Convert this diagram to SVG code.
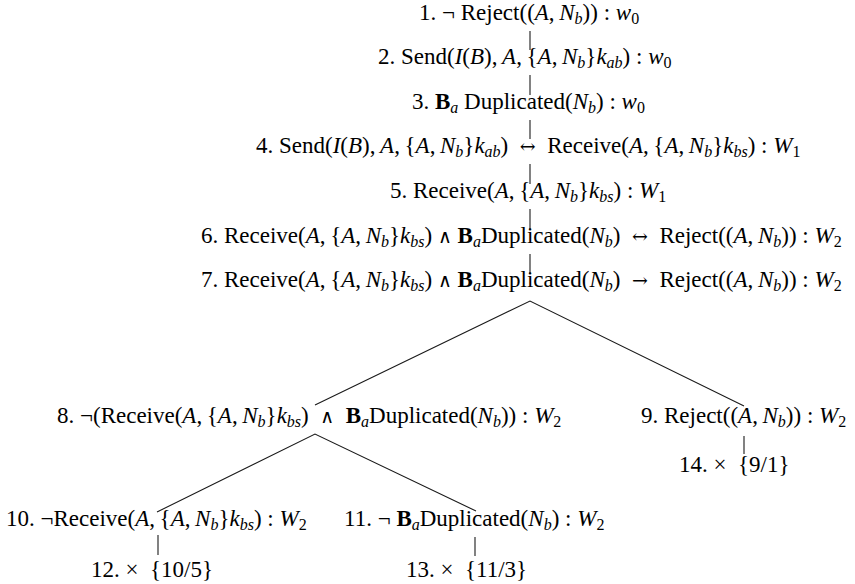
<svg xmlns="http://www.w3.org/2000/svg" width="855" height="584" viewBox="0 0 855 584" xml:space="preserve">
<style>
  text { font-family: "Liberation Serif", "Times New Roman", serif; font-size: 23px; fill: #000; }
  .i { font-style: italic; }
  .b { font-weight: bold; }
  .s { font-size: 16px; }
  .m { font-family: "DejaVu Serif", serif; font-size: 19px; }
  .edge { stroke: #1a1a1a; stroke-width: 1.1; fill: none; }
</style>
<rect width="855" height="584" fill="#fff"/>
<!-- tree edges: vertical trunk, the two binary splits, and the closing stubs -->
<g id="edges">
  <line class="edge" x1="530" y1="31" x2="530" y2="50"/>
  <line class="edge" x1="530" y1="75" x2="530" y2="95"/>
  <line class="edge" x1="530" y1="120" x2="530" y2="139"/>
  <line class="edge" x1="530" y1="164" x2="530" y2="184"/>
  <line class="edge" x1="530" y1="209" x2="530" y2="229"/>
  <line class="edge" x1="530" y1="254" x2="530" y2="274"/>
  <polyline class="edge" points="315,405 530,301 744,406"/>
  <polyline class="edge" points="157,512 315,434 476,511"/>
  <line class="edge" x1="744" y1="436" x2="744" y2="454"/>
  <line class="edge" x1="158" y1="535" x2="158" y2="555"/>
  <line class="edge" x1="475" y1="537" x2="475" y2="556"/>
</g>
<g id="n1"><text x="419" y="20">1. ¬ Reject((<tspan class="i">A</tspan>,&#8201;<tspan class="i">N</tspan><tspan class="s i" dy="4">b</tspan><tspan dy="-4">)) : </tspan><tspan class="i">w</tspan><tspan class="s" dy="4">0</tspan></text></g>
<g id="n2"><text x="378" y="64">2. Send(<tspan class="i">I</tspan>(<tspan class="i">B</tspan>),&#8201;<tspan class="i">A</tspan>,&#8201;{<tspan class="i">A</tspan>,&#8201;<tspan class="i">N</tspan><tspan class="s i" dy="4">b</tspan><tspan dy="-4">}</tspan><tspan class="i">k</tspan><tspan class="s i" dy="4">ab</tspan><tspan dy="-4">) : </tspan><tspan class="i">w</tspan><tspan class="s" dy="4">0</tspan></text></g>
<g id="n3"><text x="412" y="109">3. <tspan class="b">B</tspan><tspan class="s i" dy="4">a</tspan><tspan dy="-4"> Duplicated(</tspan><tspan class="i">N</tspan><tspan class="s i" dy="4">b</tspan><tspan dy="-4">) : </tspan><tspan class="i">w</tspan><tspan class="s" dy="4">0</tspan></text></g>
<g id="n4"><text x="256" y="153">4. Send(<tspan class="i">I</tspan>(<tspan class="i">B</tspan>),&#8201;<tspan class="i">A</tspan>,&#8201;{<tspan class="i">A</tspan>,&#8201;<tspan class="i">N</tspan><tspan class="s i" dy="4">b</tspan><tspan dy="-4">}</tspan><tspan class="i">k</tspan><tspan class="s i" dy="4">ab</tspan><tspan dy="-4">)&#160; <tspan class="m">↔</tspan> &#160;Receive(</tspan><tspan class="i">A</tspan>,&#8201;{<tspan class="i">A</tspan>,&#8201;<tspan class="i">N</tspan><tspan class="s i" dy="4">b</tspan><tspan dy="-4">}</tspan><tspan class="i">k</tspan><tspan class="s i" dy="4">bs</tspan><tspan dy="-4">) : </tspan><tspan class="i">W</tspan><tspan class="s" dy="4">1</tspan></text></g>
<g id="n5"><text x="390" y="198">5. Receive(<tspan class="i">A</tspan>,&#8201;{<tspan class="i">A</tspan>,&#8201;<tspan class="i">N</tspan><tspan class="s i" dy="4">b</tspan><tspan dy="-4">}</tspan><tspan class="i">k</tspan><tspan class="s i" dy="4">bs</tspan><tspan dy="-4">) : </tspan><tspan class="i">W</tspan><tspan class="s" dy="4">1</tspan></text></g>
<g id="n6"><text x="201" y="243">6. Receive(<tspan class="i">A</tspan>,&#8201;{<tspan class="i">A</tspan>,&#8201;<tspan class="i">N</tspan><tspan class="s i" dy="4">b</tspan><tspan dy="-4">}</tspan><tspan class="i">k</tspan><tspan class="s i" dy="4">bs</tspan><tspan dy="-4">) <tspan class="m">∧</tspan> </tspan><tspan class="b">B</tspan><tspan class="s i" dy="4">a</tspan><tspan dy="-4">Duplicated(</tspan><tspan class="i">N</tspan><tspan class="s i" dy="4">b</tspan><tspan dy="-4">)&#160; <tspan class="m">↔</tspan> &#160;Reject((</tspan><tspan class="i">A</tspan>,&#8201;<tspan class="i">N</tspan><tspan class="s i" dy="4">b</tspan><tspan dy="-4">)) : </tspan><tspan class="i">W</tspan><tspan class="s" dy="4">2</tspan></text></g>
<g id="n7"><text x="201" y="287">7. Receive(<tspan class="i">A</tspan>,&#8201;{<tspan class="i">A</tspan>,&#8201;<tspan class="i">N</tspan><tspan class="s i" dy="4">b</tspan><tspan dy="-4">}</tspan><tspan class="i">k</tspan><tspan class="s i" dy="4">bs</tspan><tspan dy="-4">) <tspan class="m">∧</tspan> </tspan><tspan class="b">B</tspan><tspan class="s i" dy="4">a</tspan><tspan dy="-4">Duplicated(</tspan><tspan class="i">N</tspan><tspan class="s i" dy="4">b</tspan><tspan dy="-4">)&#160; <tspan class="m">→</tspan> &#160;Reject((</tspan><tspan class="i">A</tspan>,&#8201;<tspan class="i">N</tspan><tspan class="s i" dy="4">b</tspan><tspan dy="-4">)) : </tspan><tspan class="i">W</tspan><tspan class="s" dy="4">2</tspan></text></g>
<g id="n8"><text x="57" y="423">8. ¬(Receive(<tspan class="i">A</tspan>,&#8201;{<tspan class="i">A</tspan>,&#8201;<tspan class="i">N</tspan><tspan class="s i" dy="4">b</tspan><tspan dy="-4">}</tspan><tspan class="i">k</tspan><tspan class="s i" dy="4">bs</tspan><tspan dy="-4">)&#160; <tspan class="m">∧</tspan> &#160;</tspan><tspan class="b">B</tspan><tspan class="s i" dy="4">a</tspan><tspan dy="-4">Duplicated(</tspan><tspan class="i">N</tspan><tspan class="s i" dy="4">b</tspan><tspan dy="-4">)) : </tspan><tspan class="i">W</tspan><tspan class="s" dy="4">2</tspan></text></g>
<g id="n9"><text x="641" y="423">9. Reject((<tspan class="i">A</tspan>,&#8201;<tspan class="i">N</tspan><tspan class="s i" dy="4">b</tspan><tspan dy="-4">)) : </tspan><tspan class="i">W</tspan><tspan class="s" dy="4">2</tspan></text></g>
<g id="n10"><text x="6" y="526">10. ¬Receive(<tspan class="i">A</tspan>,&#8201;{<tspan class="i">A</tspan>,&#8201;<tspan class="i">N</tspan><tspan class="s i" dy="4">b</tspan><tspan dy="-4">}</tspan><tspan class="i">k</tspan><tspan class="s i" dy="4">bs</tspan><tspan dy="-4">) : </tspan><tspan class="i">W</tspan><tspan class="s" dy="4">2</tspan></text></g>
<g id="n11"><text x="344" y="526">11. ¬ <tspan class="b">B</tspan><tspan class="s i" dy="4">a</tspan><tspan dy="-4">Duplicated(</tspan><tspan class="i">N</tspan><tspan class="s i" dy="4">b</tspan><tspan dy="-4">) : </tspan><tspan class="i">W</tspan><tspan class="s" dy="4">2</tspan></text></g>
<g id="n12"><text x="91" y="577">12. × &#160;{10/5}</text></g>
<g id="n13"><text x="406" y="577">13. × &#160;{11/3}</text></g>
<g id="n14"><text x="679" y="472">14. × &#160;{9/1}</text></g>
</svg>
